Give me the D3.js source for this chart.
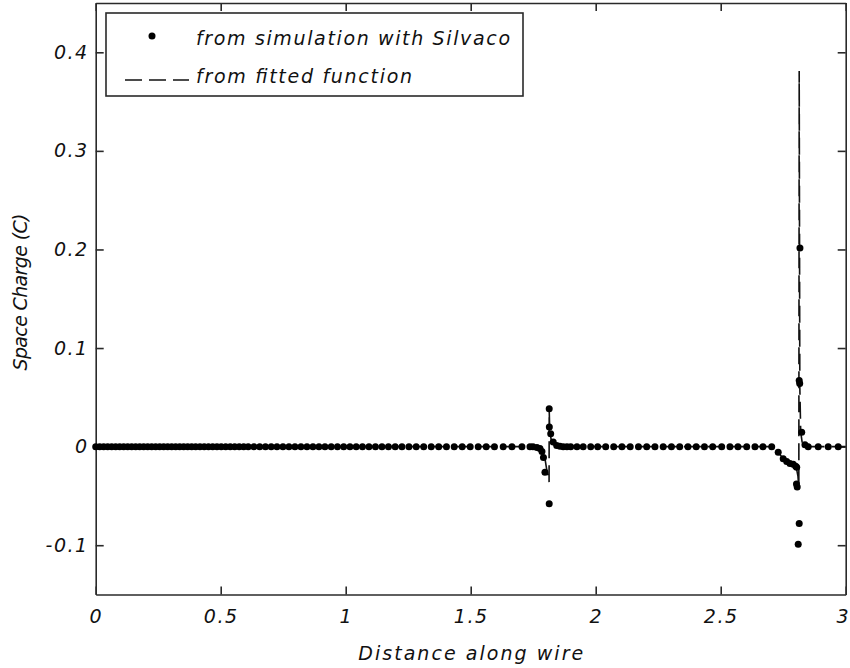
<!DOCTYPE html>
<html>
<head>
<meta charset="utf-8">
<script src="https://cdn.jsdelivr.net/npm/d3@7"></script>
<style>
  html, body { margin: 0; padding: 0; background: #fff; }
  svg { display: block; }
  text { font-family: "DejaVu Sans", sans-serif; font-style: italic; fill: #111; }
</style>
</head>
<body>
<svg id="chart" width="850" height="668"></svg>
<script>
// Mesh positions along the wire and the simulated space charge at each node
const simX = [
  0, 0.016, 0.032, 0.048, 0.064, 0.08, 0.096, 0.112, 0.128, 0.144,
  0.16, 0.176, 0.192, 0.208, 0.224, 0.24, 0.256, 0.272, 0.288, 0.304,
  0.32, 0.336, 0.352, 0.368, 0.384, 0.4, 0.417, 0.434, 0.451, 0.468,
  0.485, 0.502, 0.52, 0.538, 0.556, 0.574, 0.592, 0.61,
  0.633, 0.656, 0.679, 0.702, 0.725, 0.749, 0.773, 0.797, 0.821, 0.845,
  0.869, 0.893, 0.917, 0.942, 0.967, 0.992, 1.017, 1.042, 1.067, 1.093,
  1.119, 1.145, 1.171, 1.198, 1.225, 1.253,
  1.282, 1.312, 1.342, 1.372, 1.403, 1.434, 1.466, 1.498, 1.53, 1.562,
  1.595, 1.63, 1.665, 1.705, 1.737, 1.749, 1.765, 1.777, 1.785, 1.791, 1.797,
  1.814, 1.814, 1.8145, 1.82, 1.83, 1.844, 1.857, 1.87, 1.885, 1.9,
  1.925, 1.95, 1.98, 2.008, 2.04, 2.072, 2.105, 2.138, 2.171, 2.204,
  2.237, 2.27, 2.303, 2.336, 2.369, 2.402, 2.435, 2.468, 2.504, 2.537,
  2.569, 2.604, 2.637, 2.669, 2.704, 2.73, 2.75, 2.764, 2.777, 2.79,
  2.8, 2.804, 2.803, 2.806, 2.81, 2.814, 2.814, 2.816, 2.817, 2.824,
  2.837, 2.85, 2.89, 2.93, 2.97
];
const simY = [
  0, 0, 0, 0, 0, 0, 0, 0, 0, 0,
  0, 0, 0, 0, 0, 0, 0, 0, 0, 0,
  0, 0, 0, 0, 0, 0, 0, 0, 0, 0,
  0, 0, 0, 0, 0, 0, 0, 0,
  0, 0, 0, 0, 0, 0, 0, 0, 0, 0,
  0, 0, 0, 0, 0, 0, 0, 0, 0, 0,
  0, 0, 0, 0, 0, 0,
  0, 0, 0, 0, 0, 0, 0, 0, 0, 0,
  0, 0, 0, 0, 0, 0, -0.001, -0.002, -0.005, -0.011, -0.026,
  -0.058, 0.0385, 0.0198, 0.013, 0.0046, 0.0012, 0.0005, 0, 0, 0,
  0, 0, 0, 0, 0, 0, 0, 0, 0, 0,
  0, 0, 0, 0, 0, 0, 0, 0, 0, 0,
  0, 0, 0, 0, 0, -0.0056, -0.0123, -0.015, -0.017, -0.018,
  -0.02, -0.021, -0.038, -0.041, -0.099, -0.078, 0.067, 0.064, 0.2015, 0.0147,
  0.002, 0, 0, 0, 0
];

// Fitted space-charge function, sampled along the wire
const fitX = [
  0, 1.76, 1.78, 1.79, 1.797, 1.802, 1.807, 1.811, 1.8135, 1.814,
  1.8155, 1.818, 1.822, 1.828, 1.84, 1.86, 2.69, 2.71, 2.73, 2.75,
  2.77, 2.79, 2.803, 2.809, 2.8125, 2.814, 2.8165, 2.82, 2.826, 2.84, 3
];
const fitY = [
  0, 0, -0.002, -0.006, -0.012, -0.02, -0.028, -0.034, -0.036, 0.038,
  0.022, 0.013, 0.007, 0.003, 0.001, 0, 0, -0.002, -0.006, -0.012,
  -0.016, -0.019, -0.022, -0.03, -0.042, 0.381, 0.06, 0.015, 0.004, 0, 0
];

const xTicks = [0, 0.5, 1, 1.5, 2, 2.5, 3];
const xTickLabels = ["0", "0.5", "1", "1.5", "2", "2.5", "3"];
const yTicks = [-0.1, 0, 0.1, 0.2, 0.3, 0.4];
const yTickLabels = ["-0.1", "0", "0.1", "0.2", "0.3", "0.4"];

const xTitle = "Distance along wire";
const yTitle = "Space Charge (C)";
const legendLabels = ["from simulation with Silvaco", "from fitted function"];

const svg = d3.select("#chart");
const plotLeft = 95.7, plotRight = 845.7, plotTop = 3, plotBottom = 594.5;

const x = d3.scaleLinear().domain([0, 3]).range([plotLeft, plotRight]);
const y = d3.scaleLinear().domain([-0.15, 0.45]).range([plotBottom, plotTop]);

const axisColor = "#2a2a2a";
const tickFont = 19;
const markerR = 3.5;

// Plot frame with inward ticks on all four sides
function styleAxis(g) {
  g.selectAll("path.domain").attr("stroke", axisColor).attr("stroke-width", 1.6);
  g.selectAll(".tick line").attr("stroke", axisColor).attr("stroke-width", 1.6);
  g.selectAll(".tick text")
    .attr("font-family", "DejaVu Sans")
    .attr("font-style", "italic")
    .attr("font-size", tickFont)
    .attr("letter-spacing", 1.5)
    .attr("fill", "#111");
}

const xAxisG = svg.append("g")
  .attr("transform", `translate(0,${plotBottom})`)
  .call(d3.axisBottom(x).tickValues(xTicks).tickSizeInner(-8).tickSizeOuter(0)
    .tickPadding(15).tickFormat((d, i) => xTickLabels[i]))
  .call(styleAxis);
// keep the last label inside the page edge
xAxisG.selectAll(".tick text").filter(d => d === 3).attr("dx", -3);

svg.append("g")
  .attr("transform", `translate(0,${plotTop})`)
  .call(d3.axisTop(x).tickValues(xTicks).tickSizeInner(-8).tickSizeOuter(0).tickFormat(""))
  .call(styleAxis);

svg.append("g")
  .attr("transform", `translate(${plotLeft},0)`)
  .call(d3.axisLeft(y).tickValues(yTicks).tickSizeInner(-8).tickSizeOuter(0)
    .tickPadding(7).tickFormat((d, i) => yTickLabels[i]))
  .call(styleAxis);

svg.append("g")
  .attr("transform", `translate(${plotRight},0)`)
  .call(d3.axisRight(y).tickValues(yTicks).tickSizeInner(-8).tickSizeOuter(0).tickFormat(""))
  .call(styleAxis);

// Fitted function as a dashed line
const fitData = fitX.map((v, i) => [v, fitY[i]]);
const line = d3.line().x(d => x(d[0])).y(d => y(d[1]));
svg.append("path")
  .datum(fitData)
  .attr("d", line)
  .attr("fill", "none")
  .attr("stroke", "#111")
  .attr("stroke-width", 1.6)
  .attr("stroke-dasharray", "17,7");

// Simulated values as point markers
const simData = simX.map((v, i) => [v, simY[i]]);
svg.append("g")
  .selectAll("circle")
  .data(simData)
  .join("circle")
  .attr("cx", d => x(d[0]))
  .attr("cy", d => y(d[1]))
  .attr("r", markerR)
  .attr("fill", "#000");

// Axis titles
svg.append("text")
  .attr("x", (plotLeft + plotRight) / 2)
  .attr("y", 660)
  .attr("text-anchor", "middle")
  .attr("font-size", 19)
  .attr("textLength", 225)
  .attr("lengthAdjust", "spacing")
  .text(xTitle);

svg.append("text")
  .attr("transform", `translate(27,292) rotate(-90)`)
  .attr("text-anchor", "middle")
  .attr("font-size", 19)
  .attr("textLength", 157)
  .attr("lengthAdjust", "spacing")
  .text(yTitle);

// Legend
const legend = svg.append("g");
legend.append("rect")
  .attr("x", 106).attr("y", 13)
  .attr("width", 417).attr("height", 83)
  .attr("fill", "#fff")
  .attr("stroke", axisColor)
  .attr("stroke-width", 1.6);
legend.append("circle")
  .attr("cx", 152).attr("cy", 36).attr("r", markerR).attr("fill", "#000");
legend.append("line")
  .attr("x1", 125).attr("x2", 189).attr("y1", 80).attr("y2", 80)
  .attr("stroke", "#111").attr("stroke-width", 1.6)
  .attr("stroke-dasharray", "17,7");
legend.append("text")
  .attr("x", 196).attr("y", 45)
  .attr("font-size", 19)
  .attr("textLength", 314)
  .attr("lengthAdjust", "spacing")
  .text(legendLabels[0]);
legend.append("text")
  .attr("x", 196).attr("y", 83)
  .attr("font-size", 19)
  .attr("textLength", 216)
  .attr("lengthAdjust", "spacing")
  .text(legendLabels[1]);
</script>
</body>
</html>
